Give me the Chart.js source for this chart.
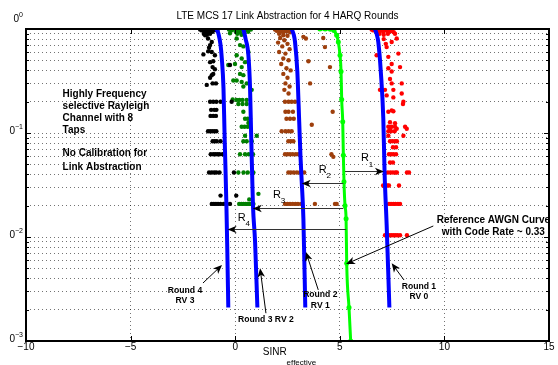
<!DOCTYPE html>
<html>
<head>
<meta charset="utf-8">
<script src="https://cdn.jsdelivr.net/npm/chart.js@4"></script>
<style>html,body{margin:0;padding:0;background:#fff}canvas{display:block}</style>
</head>
<body>
<canvas id="myChart" width="558" height="365"></canvas>
<script>
// axis ticks
const xTicks = [-10, -5, 0, 5, 10, 15];
const yDecades = [1, 0.1, 0.01, 0.001];
// the leading "1" of each 10^n label is cut off in the original
const yDecadeBase = '0';
const yDecadeExp = ['0', '\u22121', '\u22122', '\u22123'];
const yMinor = [2, 3, 4, 5, 6, 7, 8, 9];

// link level results per channel realisation, [SINR_eff, BLER]
const round4Pts = [[-1.68,0.99],[-1.6,0.97],[-1.52,1.0],[-1.45,0.95],[-1.38,0.99],[-1.3,0.93],[-1.22,0.97],[-1.15,1.0],[-1.08,0.94],[-1.0,0.98],[-0.9,0.99],[-0.85,0.96],[-1.5,0.9],[-1.35,0.88],[-1.2,0.9],
  [-1.44,0.87],[-1.3,0.81],[-1.12,0.75],[-1.2,0.7],[-1.25,0.66],[-1.52,0.57],[-1.29,0.61],[-1.12,0.6],[-0.97,0.56],[-1.2,0.48],[-1.05,0.49],[-1.08,0.43],[-0.97,0.41],[-1.12,0.36],[-1.05,0.37],[-1.2,0.34],[-1.36,0.29],[-1.08,0.3],[-0.92,0.3],[-0.25,0.45],[-0.17,0.2],
  [-1.2,0.2],[-1.05,0.2],[-0.9,0.2],[-0.7,0.2],[-1.15,0.167],[-1.0,0.167],[-0.9,0.167],[-1.18,0.146],[-1.05,0.146],[-0.92,0.146],
  [-1.3,0.104],[-1.2,0.104],[-1.1,0.104],[-1.0,0.104],[-0.9,0.104],
  [-1.08,0.0833],[-0.98,0.0833],[-0.88,0.0833],[-0.7,0.0833],
  [-1.17,0.0625],[-1.05,0.0625],[-0.95,0.0625],[-0.85,0.0625],[-0.75,0.0625],[-0.6,0.0625],
  [-1.25,0.0417],[-1.12,0.0417],[-1.0,0.0417],[-0.9,0.0417],[-0.75,0.0417],[-0.06,0.0417],
  [-0.7,0.025],[0.05,0.025],
  [-1.12,0.0208],[-1.02,0.0208],[-0.92,0.0208],[-0.82,0.0208],[-0.7,0.0208],[-0.55,0.0208],[-0.4,0.0208],[-0.25,0.0208]];

const round3Pts = [[-0.3,0.99],[-0.18,0.97],[-0.08,1.0],[0.02,0.95],[0.12,0.98],[0.22,0.93],[0.32,0.99],[0.42,0.96],[0.52,0.98],[0.62,0.94],[0.75,0.99],[0.1,0.9],[0.3,0.88],[-0.25,0.91],
  [0.07,0.81],[0.23,0.7],[0.39,0.68],[0.63,0.6],[0.07,0.56],[0.31,0.52],[0.47,0.48],[-0.01,0.46],[0.31,0.43],[0.23,0.37],[0.39,0.36],[0.07,0.32],[0.31,0.31],[0.55,0.3],[0.79,0.26],[0.39,0.28],[-0.09,0.32],[-0.33,0.45],[-0.12,0.21],
  [0.07,0.208],[0.2,0.208],[0.35,0.208],[0.55,0.208],[0.15,0.19],[0.35,0.19],[0.55,0.19],[0.39,0.16],[0.47,0.137],[0.6,0.137],[0.71,0.137],[0.63,0.125],
  [0.31,0.115],[0.45,0.115],[0.6,0.115],
  [0.47,0.094],[1.03,0.094],
  [0.39,0.0833],[0.55,0.0833],[0.79,0.0833],
  [0.23,0.0625],[0.47,0.0625],[0.65,0.0625],[0.85,0.0625],
  [0.15,0.0417],[0.4,0.0417],[0.6,0.0417],[0.87,0.0417],
  [1.11,0.026],[0.67,0.023],
  [0.19,0.0208],[0.3,0.0208],[0.4,0.0208],[0.5,0.0208],[0.6,0.0208],[0.7,0.0208],[0.8,0.0208],[0.87,0.0208]];

const round2Pts = [[1.9,0.99],[1.98,0.96],[2.06,1.0],[2.14,0.94],[2.22,0.98],[2.3,0.92],[2.38,0.99],[2.46,0.95],[2.54,0.97],[2.62,0.93],[2.7,0.99],[2.1,0.9],[2.3,0.87],[2.5,0.86],
  [2.15,0.82],[2.35,0.78],[2.05,0.74],[2.5,0.72],[2.25,0.68],[2.6,0.64],[2.1,0.6],[2.4,0.58],[2.3,0.52],[2.55,0.5],[2.2,0.46],[2.45,0.42],[2.65,0.4],[2.3,0.37],[2.5,0.34],[2.4,0.3],[2.6,0.28],[2.35,0.26],[2.55,0.24],
  [3.26,0.84],[3.38,0.81],[4.29,0.67],[4.21,0.82],[3.5,0.49],[4.53,0.43],[3.58,0.3],[4.66,0.16],[3.66,0.12],[4.69,0.059],
  [2.38,0.2],[2.55,0.2],[2.7,0.2],[2.86,0.2],[2.4,0.16],[2.55,0.16],[2.76,0.16],[2.45,0.137],[2.62,0.137],[2.8,0.137],
  [2.22,0.104],[2.4,0.104],[2.55,0.104],[2.7,0.104],
  [2.54,0.0833],[2.66,0.0833],[2.78,0.0833],
  [2.38,0.0625],[2.5,0.0625],[2.62,0.0625],[2.75,0.0625],[2.9,0.0625],[3.02,0.0625],[4.6,0.0625],
  [2.54,0.0417],[2.66,0.0417],[2.8,0.0417],[2.95,0.0417],[3.1,0.0417],[3.3,0.0417],
  [2.38,0.0208],[2.5,0.0208],[2.62,0.0208],[2.75,0.0208],[2.88,0.0208],[3.0,0.0208],[3.15,0.0208],[3.81,0.0208],[4.77,0.0208],[4.85,0.0208]];

const round1Pts = [[6.52,0.99],[6.6,0.97],[6.68,1.0],[6.76,0.95],[6.85,0.98],[6.93,0.96],[7.0,1.0],[7.08,0.94],[7.16,0.98],[7.25,0.96],[7.33,0.99],[7.42,0.95],[7.5,0.98],[7.58,0.93],[6.9,0.9],[7.1,0.88],[7.3,0.9],
  [7.64,0.9],[7.72,0.81],[7.48,0.75],[7.24,0.67],[7.8,0.58],[6.76,0.56],[7.32,0.54],[7.1,0.8],[7.2,0.72],[7.48,0.46],[7.88,0.43],[7.32,0.42],[7.48,0.39],[7.96,0.3],[7.4,0.33],[7.48,0.3],[6.92,0.26],[7.16,0.26],[7.56,0.26],[7.96,0.24],[7.24,0.23],[7.56,0.22],[8.04,0.2],[8.02,0.19],[7.48,0.165],[7.32,0.16],[7.56,0.162],[7.4,0.127],[7.64,0.124],[7.72,0.11],[8.2,0.11],[7.4,0.107],
  [7.32,0.115],[7.48,0.115],[7.64,0.115],[8.12,0.115],
  [7.32,0.104],[7.45,0.104],[7.62,0.104],
  [7.32,0.094],[8.04,0.094],
  [7.4,0.0833],[7.52,0.0833],[7.64,0.0833],[7.73,0.0833],
  [7.54,0.0729],[7.69,0.0729],
  [7.35,0.0625],[7.45,0.0625],[7.56,0.0625],[7.69,0.0625],
  [7.4,0.0521],[7.54,0.0521],
  [7.3,0.0417],[7.42,0.0417],[7.54,0.0417],[7.66,0.0417],[7.73,0.0417],[8.21,0.0417],[8.31,0.0417],
  [7.07,0.03125],[7.18,0.03125],[7.28,0.03125],[7.35,0.03125],[7.83,0.03125],
  [7.35,0.0208],[7.45,0.0208],[7.56,0.0208],[7.66,0.0208],[7.78,0.0208],[7.88,0.0208],
  [7.16,0.0104],[7.26,0.0104],[7.36,0.0104],[7.46,0.0104],[7.56,0.0104],[7.66,0.0104],[7.76,0.0104],[7.88,0.0104],[8.21,0.0104]];

// link abstraction curves
const round4Curve = [[-0.9,1.0],[-0.8,0.9],[-0.7,0.7],[-0.64,0.52],[-0.56,0.27],[-0.51,0.1],[-0.47,0.05],[-0.42,0.02],[-0.38,0.008],[-0.33,0.0021]];
const round3Curve = [[0.39,1.0],[0.5,0.8],[0.63,0.56],[0.71,0.27],[0.76,0.1],[0.81,0.04],[0.85,0.02],[0.95,0.009],[1.06,0.0021]];
const round2Curve = [[2.7,1.0],[2.8,0.88],[2.86,0.75],[2.97,0.39],[3.06,0.128],[3.12,0.06],[3.18,0.034],[3.26,0.015],[3.35,0.0021]];
const round1Curve = [[6.68,1.0],[6.76,0.9],[6.84,0.75],[6.96,0.39],[7.08,0.137],[7.14,0.042],[7.24,0.013],[7.37,0.0021]];
const awgnCurve = [[4.05,1.0],[4.3,1.0],[4.55,0.995],[4.72,0.97],[4.85,0.87],[4.93,0.75],[5.01,0.56],[5.06,0.39],[5.09,0.21],[5.14,0.128],[5.17,0.061],[5.2,0.034],[5.25,0.02],[5.3,0.015],[5.33,0.0056],[5.44,0.0021],[5.52,0.001]];

// annotations, anchored in data coordinates
const textNotes = [
  {x: -8.25, y: 0.237, lines: ['Highly Frequency', 'selective Rayleigh', 'Channel with 8', 'Taps'], align: 'left', size: 10, lh: 12},
  {x: -8.25, y: 0.0635, lines: ['No Calibration for', 'Link Abstraction'], align: 'left', size: 10, lh: 13.5},
  {x: 12.34, y: 0.01435, lines: ['Reference AWGN Curve', 'with Code Rate ~ 0.33'], align: 'center', size: 10, lh: 11.6},
  {x: -2.4, y: 0.00303, lines: ['Round 4', 'RV 3'], align: 'center', size: 8.6, lh: 10},
  {x: 1.47, y: 0.00162, lines: ['Round 3 RV 2'], align: 'center', size: 8.6, lh: 10},
  {x: 4.07, y: 0.00281, lines: ['Round 2', 'RV 1'], align: 'center', size: 8.6, lh: 11.5},
  {x: 8.78, y: 0.00333, lines: ['Round 1', 'RV 0'], align: 'center', size: 8.6, lh: 10}
];
const rLabels = [
  {x: 6.2, y: 0.0571, sub: '1'},
  {x: 4.18, y: 0.0444, sub: '2'},
  {x: 2.0, y: 0.0255, sub: '3'},
  {x: 0.31, y: 0.0152, sub: '4'}
];
// [from x, from y, to x, to y]
const rArrows = [[5.25,0.0431,7.11,0.0431],[5.17,0.0333,3.18,0.0333],[5.17,0.0191,0.84,0.0191],[5.3,0.0119,-0.36,0.0119]];
const noteArrows = [[-1.54,0.00361,-0.63,0.00538],[1.47,0.00185,1.19,0.005],[3.97,0.0031,3.38,0.00718],[8.07,0.00386,7.48,0.00559],[9.47,0.01276,5.3,0.0055]];

const FONT = '"Liberation Sans", Arial, Helvetica, sans-serif';

const toXY = pts => pts.map(p => ({x: p[0], y: p[1]}));

const dotSet = (pts, color) => ({
  data: toXY(pts), showLine: false, pointRadius: 2.2, pointHoverRadius: 2.2,
  pointBackgroundColor: color, pointBorderWidth: 0, order: 2
});
const curveSet = (pts, color, width, pr) => ({
  data: toXY(pts), showLine: true, borderColor: color, borderWidth: width,
  pointRadius: pr, pointBackgroundColor: color, pointBorderWidth: 0,
  cubicInterpolationMode: 'monotone', order: 1
});

const overlay = {
  id: 'overlay',
  afterDraw(chart) {
    const {ctx, chartArea: a, scales: {x, y}} = chart;
    const line = (x1, y1, x2, y2) => { ctx.beginPath(); ctx.moveTo(x1, y1); ctx.lineTo(x2, y2); ctx.stroke(); };
    const arrow = (x1, y1, x2, y2) => {
      const ang = Math.atan2(y2 - y1, x2 - x1);
      line(x1, y1, x2 - Math.cos(ang) * 5, y2 - Math.sin(ang) * 5);
      ctx.save();
      ctx.translate(x2, y2); ctx.rotate(ang);
      ctx.beginPath(); ctx.moveTo(0, 0); ctx.lineTo(-9, -3.8); ctx.lineTo(-6.5, 0); ctx.lineTo(-9, 3.8); ctx.closePath(); ctx.fill();
      ctx.restore();
    };
    ctx.save();
    ctx.strokeStyle = '#000'; ctx.fillStyle = '#000'; ctx.lineWidth = 1;

    // inward tick marks
    xTicks.forEach(v => {
      const px = Math.round(x.getPixelForValue(v)) + 0.5;
      line(px, a.bottom, px, a.bottom - 5); line(px, a.top, px, a.top + 5);
    });
    yDecades.forEach(d => {
      const py = Math.round(y.getPixelForValue(d)) + 0.5;
      line(a.left, py, a.left + 5, py); line(a.right, py, a.right - 5, py);
      if (d < 1) yMinor.forEach(m => {
        const pm = Math.round(y.getPixelForValue(d * m)) + 0.5;
        line(a.left, pm, a.left + 3, pm); line(a.right, pm, a.right - 3, pm);
      });
    });

    // axes box
    ctx.lineWidth = 2;
    ctx.strokeRect(a.left, a.top, a.right - a.left, a.bottom - a.top);

    // y decade labels
    ctx.textBaseline = 'middle'; ctx.textAlign = 'right';
    yDecades.forEach((d, i) => {
      const py = y.getPixelForValue(d) - (i === 0 ? 10 : 2);
      ctx.font = '7px ' + FONT;
      const w = ctx.measureText(yDecadeExp[i]).width;
      ctx.fillText(yDecadeExp[i], 23, py - 4);
      ctx.font = '10px ' + FONT;
      ctx.fillText(yDecadeBase, 23 - w, py);
    });

    // title
    ctx.textAlign = 'center';
    ctx.font = '10px ' + FONT;
    ctx.fillText('LTE MCS 17 Link Abstraction for 4 HARQ Rounds', (a.left + a.right) / 2, 16);

    // x label with subscript
    ctx.textAlign = 'left';
    ctx.font = '10px ' + FONT;
    const w1 = ctx.measureText('SINR').width;
    ctx.font = '8px ' + FONT;
    const w2 = ctx.measureText('effective').width;
    const lx = (a.left + a.right) / 2 + 2 - (w1 + w2) / 2;
    ctx.font = '10px ' + FONT;
    ctx.fillText('SINR', lx, 352);
    ctx.font = '8px ' + FONT;
    ctx.fillText('effective', lx + w1, 362.5);

    // bold notes
    textNotes.forEach(n => {
      ctx.font = 'bold ' + n.size + 'px ' + FONT;
      ctx.textAlign = n.align;
      const px = x.getPixelForValue(n.x), py = y.getPixelForValue(n.y);
      n.lines.forEach((t, k) => ctx.fillText(t, px, py + k * n.lh));
    });

    // R_i labels
    ctx.textAlign = 'center';
    rLabels.forEach(r => {
      const px = x.getPixelForValue(r.x), py = y.getPixelForValue(r.y);
      ctx.font = '11px ' + FONT;
      ctx.fillText('R', px, py);
      ctx.font = '8px ' + FONT;
      ctx.fillText(r.sub, px + 6, py + 6);
    });

    // arrows
    ctx.lineWidth = 1;
    ctx.strokeStyle = '#333';
    rArrows.forEach(r => arrow(x.getPixelForValue(r[0]), Math.round(y.getPixelForValue(r[1])) + 0.5,
                               x.getPixelForValue(r[2]), Math.round(y.getPixelForValue(r[3])) + 0.5));
    ctx.strokeStyle = '#000';
    noteArrows.forEach(r => arrow(x.getPixelForValue(r[0]), y.getPixelForValue(r[1]),
                                  x.getPixelForValue(r[2]), y.getPixelForValue(r[3])));
    ctx.restore();
  }
};

const ctx = document.querySelector('#myChart').getContext('2d');

new Chart(ctx, {
  type: 'scatter',
  data: {
    datasets: [
      curveSet(round4Curve, '#0000ff', 4, 0),
      curveSet(round3Curve, '#0000ff', 4, 0),
      curveSet(round2Curve, '#0000ff', 4, 0),
      curveSet(round1Curve, '#0000ff', 4, 0),
      curveSet(awgnCurve, '#00ff00', 3, 2.5),
      dotSet(round4Pts, '#000000'),
      dotSet(round3Pts, '#008000'),
      dotSet(round2Pts, '#9e3f0c'),
      dotSet(round1Pts, '#ff0000')
    ]
  },
  options: {
    responsive: false,
    animation: false,
    events: [],
    layout: {padding: {top: 29, right: 9, left: 0, bottom: 0}},
    plugins: {legend: {display: false}, tooltip: {enabled: false}},
    scales: {
      x: {
        type: 'linear', min: -10, max: 15,
        afterBuildTicks: s => { s.ticks = xTicks.map(v => ({value: v})); },
        ticks: {
          autoSkip: false, padding: 0, color: '#000',
          font: {size: 10, family: FONT},
          callback: v => (v < 0 ? '\u2212' + Math.abs(v) : String(v))
        },
        grid: {color: 'rgba(0,0,0,0.55)', lineWidth: 1, drawTicks: false},
        border: {display: false, dash: [1, 3]},
        afterFit: s => { s.height = 24; }
      },
      y: {
        type: 'logarithmic', min: 0.001, max: 1,
        afterBuildTicks: s => {
          const t = [];
          yDecades.forEach(d => { t.push({value: d}); if (d < 1) yMinor.forEach(m => t.push({value: d * m})); });
          s.ticks = t.sort((p, q) => p.value - q.value);
        },
        ticks: {display: false, autoSkip: false},
        grid: {color: 'rgba(0,0,0,0.55)', lineWidth: 1, drawTicks: false},
        border: {display: false, dash: [1, 3]},
        afterFit: s => { s.width = 26; }
      }
    }
  },
  plugins: [overlay]
});
</script>
</body>
</html>
